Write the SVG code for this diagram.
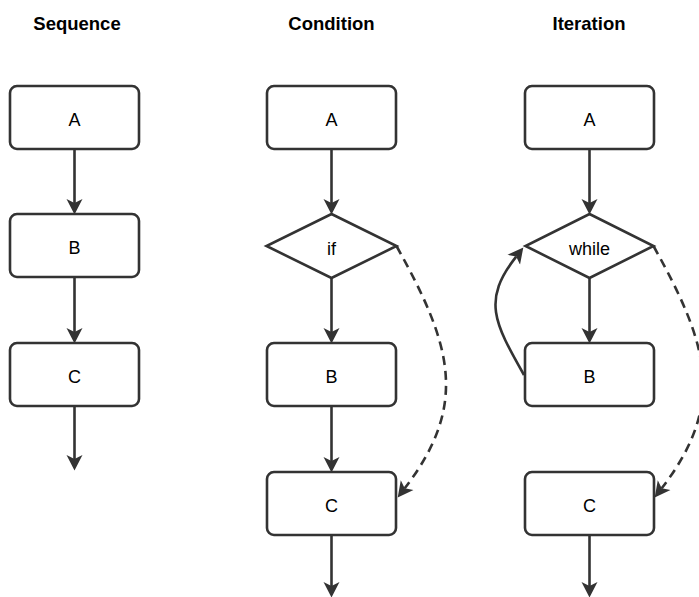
<svg xmlns="http://www.w3.org/2000/svg" width="699" height="597" viewBox="0 0 699 597">
  <style>
    .title { font-family: "Liberation Sans", Arial, sans-serif; font-weight: bold; font-size: 18.5px; fill: #000; text-anchor: middle; }
    .label { font-family: "Liberation Sans", Arial, sans-serif; font-size: 18px; fill: #000; text-anchor: middle; }
    .box { fill: #fff; stroke: #333; stroke-width: 2.6; }
    .edge { fill: none; stroke: #333; stroke-width: 2.6; marker-end: url(#arrow); }
    .dashed { stroke-dasharray: 9 6; }
  </style>
  <defs>
    <!-- classic arrowhead; the path end sits at the notch, the tip reaches 11px further -->
    <marker id="arrow" markerUnits="userSpaceOnUse" viewBox="0 0 16 17" markerWidth="16" markerHeight="17" refX="4" refY="8.5" orient="auto">
      <path d="M0,0.5 L15.5,8.5 L0,16.5 L4,8.5 Z" fill="#333"/>
    </marker>
  </defs>

  <rect width="699" height="597" fill="#fff"/>

  <!-- column titles -->
  <text class="title" x="77" y="30">Sequence</text>
  <text class="title" x="331.5" y="30">Condition</text>
  <text class="title" x="589" y="30">Iteration</text>

  <!-- connectors -->
  <g id="connectors">
    <!-- sequence -->
    <path class="edge" d="M74.5,149 V203"/>
    <path class="edge" d="M74.5,277 V332"/>
    <path class="edge" d="M74.5,406 V459"/>
    <!-- condition -->
    <path class="edge" d="M331.5,149 V203"/>
    <path class="edge" d="M331.5,278 V332"/>
    <path class="edge" d="M331.5,406 V461"/>
    <path class="edge" d="M331.5,535 V586"/>
    <path class="edge dashed" d="M396.5,246 C450.8,343.7 470,403.4 404.7,488.3"/>
    <!-- iteration -->
    <path class="edge" d="M589.5,149 V203"/>
    <path class="edge" d="M589.5,278 V332"/>
    <path class="edge" d="M589.5,535 V586"/>
    <path class="edge" d="M524,375 C494,322 482,300 516.2,256.6"/>
    <path class="edge dashed" d="M653.5,246 C707.8,343.7 727,403.4 661.7,488.3"/>
  </g>

  <!-- sequence nodes -->
  <g id="seq-a">
    <rect class="box" x="10" y="86" width="129" height="63" rx="7"/>
    <text class="label" x="74.5" y="126">A</text>
  </g>
  <g id="seq-b">
    <rect class="box" x="10" y="214" width="129" height="63" rx="7"/>
    <text class="label" x="74.5" y="254">B</text>
  </g>
  <g id="seq-c">
    <rect class="box" x="10" y="343" width="129" height="63" rx="7"/>
    <text class="label" x="74.5" y="383">C</text>
  </g>

  <!-- condition nodes -->
  <g id="cond-a">
    <rect class="box" x="267" y="86" width="129" height="63" rx="7"/>
    <text class="label" x="331.5" y="126">A</text>
  </g>
  <g id="cond-if">
    <polygon class="box" points="331.5,214 396.5,246 331.5,278 266.5,246"/>
    <text class="label" x="331.5" y="254.5">if</text>
  </g>
  <g id="cond-b">
    <rect class="box" x="267" y="343" width="129" height="63" rx="7"/>
    <text class="label" x="331.5" y="383">B</text>
  </g>
  <g id="cond-c">
    <rect class="box" x="267" y="472" width="129" height="63" rx="7"/>
    <text class="label" x="331.5" y="512">C</text>
  </g>

  <!-- iteration nodes -->
  <g id="iter-a">
    <rect class="box" x="525" y="86" width="129" height="63" rx="7"/>
    <text class="label" x="589.5" y="126">A</text>
  </g>
  <g id="iter-while">
    <polygon class="box" points="589.5,214 653.5,246 589.5,278 525.5,246"/>
    <text class="label" x="589.5" y="254.5">while</text>
  </g>
  <g id="iter-b">
    <rect class="box" x="525" y="343" width="129" height="63" rx="7"/>
    <text class="label" x="589.5" y="383">B</text>
  </g>
  <g id="iter-c">
    <rect class="box" x="525" y="472" width="129" height="63" rx="7"/>
    <text class="label" x="589.5" y="512">C</text>
  </g>
</svg>
